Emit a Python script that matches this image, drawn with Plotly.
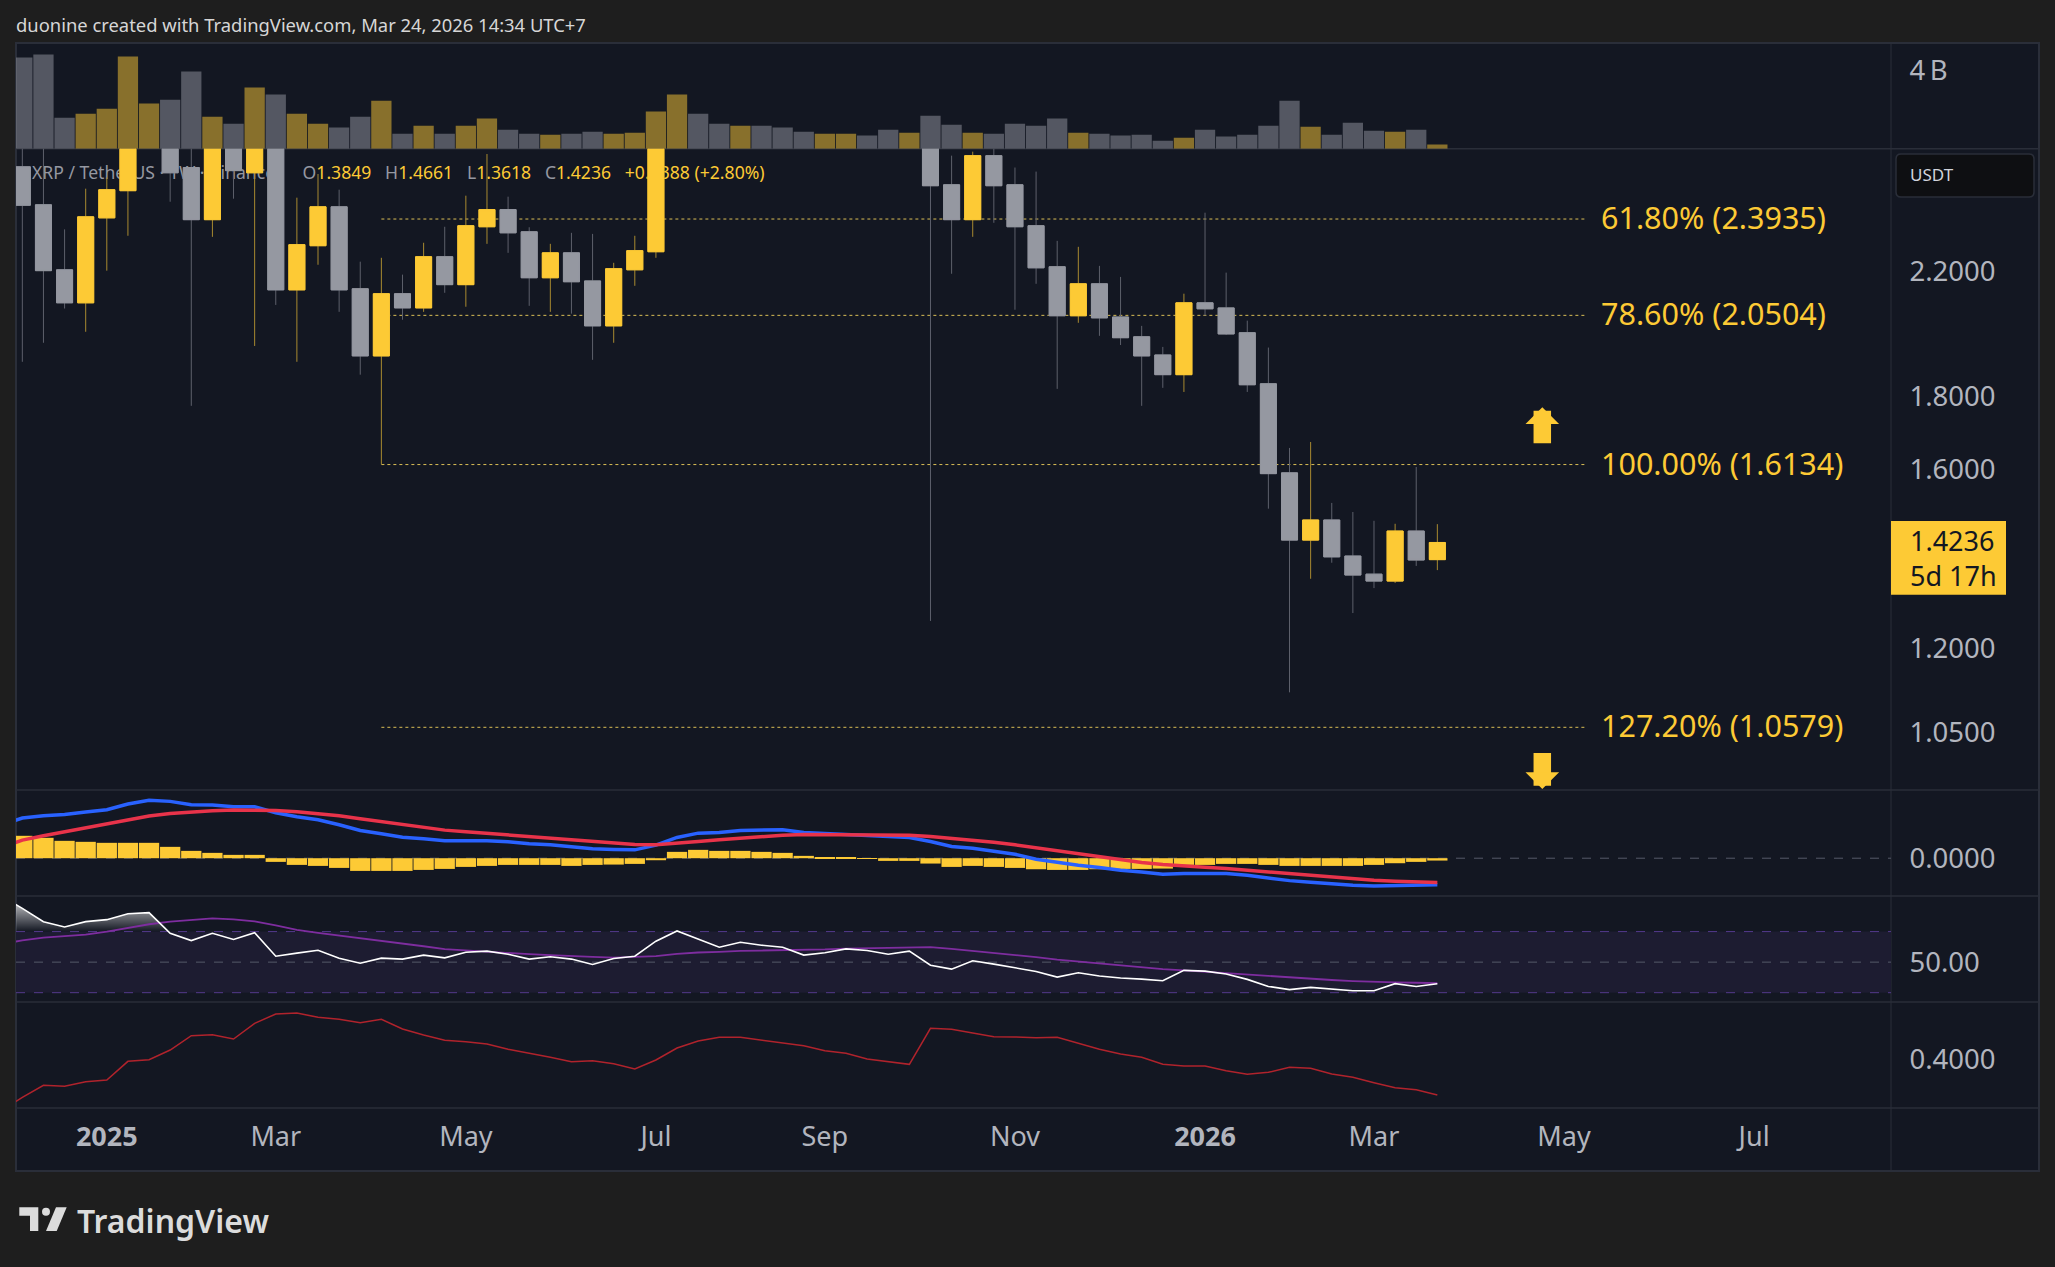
import numpy as np
import pandas as pd
import plotly.graph_objects as go
from plotly.subplots import make_subplots

W, H = 2055, 1267

# weekly bars, Dec 9 2024 .. Mar 23 2026 (bars above 2.68 are cut off by the pane)
first_bar = "2024-12-09"
opens = [2.603, 2.449, 2.206, 2.092, 2.398, 2.505, 3.15, 3.10, 2.60, 2.391, 2.75, 2.578, 2.75, 2.136, 2.293, 2.441, 2.140,
         1.921, 2.123, 2.075, 2.253, 2.154, 2.364, 2.430, 2.345, 2.178, 2.267, 2.167, 2.016, 2.206, 2.271, 2.95, 3.45,
         3.15, 2.98, 3.10, 3.02, 2.98, 2.85, 2.95, 3.08, 2.98, 2.85, 2.99, 2.529, 2.391, 2.650, 2.529, 2.368, 2.217,
         2.049, 2.157, 2.045, 1.981, 1.924, 1.864, 2.092, 2.075, 1.994, 1.837, 1.592, 1.429, 1.476, 1.393, 1.353, 1.338,
         1.450, 1.3849]
highs = [2.72, 2.75, 2.354, 2.513, 2.559, 3.40, 3.40, 3.20, 2.90, 2.80, 2.85, 2.80, 2.99, 2.477, 2.573, 2.509, 2.235,
         2.249, 2.189, 2.304, 2.364, 2.485, 2.657, 2.481, 2.362, 2.300, 2.341, 2.337, 2.231, 2.330, 3.00, 3.65, 3.50,
         3.30, 3.15, 3.30, 3.10, 3.05, 2.95, 3.10, 3.20, 3.05, 3.00, 3.10, 2.650, 2.667, 2.72, 2.60, 2.583, 2.311,
         2.289, 2.220, 2.181, 2.016, 1.949, 2.123, 2.418, 2.196, 2.033, 1.947, 1.657, 1.673, 1.517, 1.495, 1.474, 1.467,
         1.607, 1.4661]
lows = [1.903, 1.962, 2.073, 1.997, 2.203, 2.330, 2.90, 2.461, 1.773, 2.326, 2.473, 1.952, 2.085, 1.903, 2.224, 2.062,
        1.864, 1.614, 2.036, 2.062, 2.126, 2.079, 2.300, 2.267, 2.082, 2.062, 2.056, 1.909, 1.962, 2.150, 2.249, 2.80,
        2.95, 2.75, 2.75, 2.85, 2.75, 2.72, 2.72, 2.80, 2.85, 2.72, 2.72, 1.255, 2.192, 2.326, 2.379, 2.069, 2.157,
        1.822, 2.026, 1.984, 1.955, 1.773, 1.825, 1.813, 2.049, 1.987, 1.813, 1.503, 1.119, 1.343, 1.378, 1.271, 1.323,
        1.334, 1.371, 1.3618]
closes = [2.447, 2.203, 2.092, 2.402, 2.509, 3.15, 3.20, 2.578, 2.391, 2.75, 2.587, 2.75, 2.136, 2.297, 2.441, 2.136,
          1.921, 2.123, 2.075, 2.253, 2.154, 2.368, 2.430, 2.341, 2.178, 2.267, 2.164, 2.016, 2.210, 2.275, 2.95, 3.45,
          3.15, 2.98, 3.10, 3.02, 2.98, 2.85, 2.95, 3.08, 2.98, 2.85, 2.99, 2.525, 2.391, 2.650, 2.525, 2.364, 2.213,
          2.049, 2.157, 2.042, 1.978, 1.921, 1.864, 2.092, 2.072, 1.990, 1.834, 1.590, 1.429, 1.476, 1.391, 1.351, 1.338,
          1.450, 1.384, 1.4236]
volumes = [4.67, 4.82, 1.59, 1.79, 2.05, 4.72, 2.31, 2.51, 3.95, 1.64, 1.28, 3.13, 2.77, 1.79, 1.28, 1.08, 1.64, 2.46, 0.77,
           1.18, 0.77, 1.18, 1.54, 0.97, 0.77, 0.72, 0.77, 0.87, 0.77, 0.82, 1.90, 2.77, 1.79, 1.28, 1.18, 1.18, 1.08, 0.87,
           0.77, 0.77, 0.67, 0.97, 0.82, 1.69, 1.23, 0.82, 0.77, 1.28, 1.18, 1.54, 0.82, 0.77, 0.67, 0.72, 0.41, 0.56, 0.97,
           0.62, 0.72, 1.18, 2.46, 1.13, 0.72, 1.33, 0.92, 0.87, 0.97, 0.21]
macd_hist = [0.067, 0.061, 0.052, 0.049, 0.046, 0.046, 0.046, 0.034, 0.022, 0.016, 0.010, 0.010, -0.011, -0.020, -0.023,
             -0.029, -0.038, -0.038, -0.038, -0.035, -0.032, -0.026, -0.023, -0.020, -0.020, -0.020, -0.023, -0.020, -0.019,
             -0.017, -0.006, 0.019, 0.025, 0.022, 0.022, 0.019, 0.016, 0.007, 0.003, 0.001, -0.002, -0.008, -0.008, -0.016,
             -0.026, -0.023, -0.026, -0.029, -0.033, -0.035, -0.035, -0.033, -0.032, -0.032, -0.031, -0.020, -0.020, -0.017,
             -0.017, -0.020, -0.023, -0.023, -0.023, -0.023, -0.020, -0.015, -0.011, -0.007]

# the indicator lines start one bar earlier, it runs off the left edge
first_line = "2024-12-02"
macd_line = [0.100, 0.120, 0.127, 0.131, 0.138, 0.145, 0.162, 0.173, 0.170, 0.160, 0.159, 0.154, 0.154, 0.136, 0.124, 0.115,
             0.100, 0.083, 0.073, 0.063, 0.058, 0.052, 0.052, 0.052, 0.049, 0.043, 0.040, 0.034, 0.028, 0.026, 0.025, 0.039,
             0.062, 0.075, 0.077, 0.083, 0.085, 0.085, 0.077, 0.074, 0.071, 0.067, 0.064, 0.062, 0.050, 0.035, 0.030, 0.022,
             0.012, -0.003, -0.013, -0.021, -0.028, -0.036, -0.041, -0.048, -0.046, -0.046, -0.046, -0.051, -0.060, -0.067,
             -0.072, -0.077, -0.081, -0.083, -0.082, -0.081, -0.079]
signal_line = [0.032, 0.054, 0.067, 0.079, 0.090, 0.102, 0.115, 0.126, 0.134, 0.139, 0.142, 0.144, 0.144, 0.143, 0.139, 0.134,
               0.127, 0.118, 0.110, 0.100, 0.092, 0.084, 0.079, 0.074, 0.070, 0.065, 0.060, 0.056, 0.050, 0.045, 0.041, 0.040,
               0.044, 0.050, 0.055, 0.060, 0.065, 0.069, 0.071, 0.071, 0.071, 0.070, 0.070, 0.069, 0.065, 0.060, 0.054, 0.048,
               0.040, 0.031, 0.021, 0.012, 0.003, -0.005, -0.013, -0.019, -0.024, -0.027, -0.031, -0.036, -0.042, -0.048,
               -0.053, -0.058, -0.063, -0.066, -0.069, -0.071, -0.073]
rsi_line = [93.3, 85.2, 76.5, 73.0, 76.5, 77.8, 81.7, 82.4, 68.9, 64.1, 68.9, 64.8, 69.3, 53.9, 55.9, 57.8, 52.6, 49.3, 52.6,
            52.0, 54.6, 52.8, 56.5, 57.2, 55.2, 52.0, 53.5, 52.0, 48.5, 52.4, 53.9, 63.7, 70.4, 65.2, 59.8, 63.0, 61.1, 59.8,
            54.6, 56.1, 58.7, 57.6, 55.2, 57.2, 48.0, 45.4, 50.9, 48.7, 46.1, 43.9, 40.2, 43.0, 40.9, 39.6, 38.9, 37.8, 44.6,
            44.1, 42.2, 38.7, 34.1, 32.0, 33.5, 32.2, 31.3, 31.3, 35.9, 34.1, 35.9]
rsi_ma = [61.7, 64.3, 66.1, 67.2, 68.0, 70.0, 72.6, 74.8, 76.5, 77.8, 78.7, 78.0, 76.7, 74.1, 71.1, 69.1, 67.4, 65.9, 64.1,
          62.4, 60.4, 58.5, 57.6, 57.0, 56.1, 55.2, 54.6, 53.9, 53.5, 53.0, 53.3, 53.9, 55.4, 56.3, 56.7, 57.4, 57.6, 57.8,
          57.8, 58.3, 58.9, 59.1, 59.6, 59.8, 59.8, 58.7, 57.4, 56.1, 54.8, 53.3, 51.7, 50.4, 49.3, 48.0, 46.7, 45.4, 44.6,
          43.7, 43.0, 42.0, 40.7, 39.8, 39.1, 38.3, 37.6, 37.0, 36.7, 36.5, 36.3]
ratio_line = [0.3225, 0.3425, 0.3605, 0.3590, 0.3660, 0.3685, 0.3965, 0.3990, 0.4135, 0.4350, 0.4365, 0.4300, 0.4535, 0.4675,
              0.4690, 0.4625, 0.4595, 0.4545, 0.4595, 0.4450, 0.4360, 0.4280, 0.4260, 0.4225, 0.4145, 0.4090, 0.4025, 0.3960,
              0.3975, 0.3930, 0.3850, 0.3985, 0.4165, 0.4270, 0.4325, 0.4325, 0.4285, 0.4245, 0.4200, 0.4125, 0.4085, 0.4000,
              0.3960, 0.3920, 0.4460, 0.4445, 0.4390, 0.4335, 0.4330, 0.4320, 0.4325, 0.4235, 0.4145, 0.4075, 0.4025, 0.3920,
              0.3895, 0.3895, 0.3825, 0.3770, 0.3800, 0.3875, 0.3860, 0.3775, 0.3725, 0.3645, 0.3570, 0.3540, 0.3460]

fib_levels = [2.3935, 2.0504, 1.6134, 1.0579]
fib_labels = ["61.80% (2.3935)", "78.60% (2.0504)", "100.00% (1.6134)", "127.20% (1.0579)"]
fib_start, fib_end = "2025-04-07", "2026-05-11"

price_ticks = [1.05, 1.2, 1.6, 1.8, 2.2]
time_ticks = ["2025-01-06", "2025-03-03", "2025-05-05", "2025-07-07", "2025-09-01", "2025-11-03", "2026-01-05", "2026-03-02",
              "2026-05-04", "2026-07-06"]
time_labels = ["<b>2025</b>", "Mar", "May", "Jul", "Sep", "Nov", "<b>2026</b>", "Mar", "May", "Jul"]

for a in (opens, highs, lows, closes, volumes, macd_hist):
    assert len(a) == 68, len(a)
for a in (macd_line, signal_line, rsi_line, rsi_ma, ratio_line):
    assert len(a) == 69, len(a)

YELLOW = "#fdca35"
GREY = "#9598a1"
PANE = "#131722"
PAPER = "#1e1e1e"
EDGE = "#2a2e39"
TICK = "#b2b5be"
FONT = "Noto Sans"
Y_NUDGE = 1


def fx(p):
    return p / W


def fy(p):
    return 1 - (p + Y_NUDGE) / H


dates = pd.date_range(first_bar, periods=len(opens), freq="7D")
line_dates = pd.date_range(first_line, periods=len(macd_line), freq="7D")
week = pd.Timedelta(days=7)
x_range = [dates[0] - 0.3 * week, dates[0] + 88.48 * week]

fig = make_subplots(rows=5, cols=1, shared_xaxes=True)

vol_colors = ["rgba(253,202,53,0.5)" if c > o else "rgba(149,152,161,0.5)" for o, c in zip(opens, closes)]
fig.add_trace(go.Bar(x=dates, y=volumes, marker=dict(color=vol_colors, line_width=0)), row=1, col=1)

# wicks first, then the bodies again on top so the thin lines stay dim
fig.add_trace(go.Candlestick(x=dates, open=opens, high=highs, low=lows, close=closes,
                             increasing=dict(line=dict(color="#a88a30", width=1), fillcolor=YELLOW),
                             decreasing=dict(line=dict(color="#5d606b", width=1), fillcolor=GREY)), row=2, col=1)
fig.add_trace(go.Candlestick(x=dates, open=opens, close=closes,
                             high=np.maximum(opens, closes), low=np.minimum(opens, closes),
                             increasing=dict(line=dict(color=YELLOW, width=1), fillcolor=YELLOW),
                             decreasing=dict(line=dict(color=GREY, width=1), fillcolor=GREY)), row=2, col=1)

fig.add_trace(go.Bar(x=dates, y=macd_hist, marker=dict(color=YELLOW, line_width=0)), row=3, col=1)
fig.add_trace(go.Scatter(x=line_dates, y=macd_line, mode="lines", line=dict(color="#2962ff", width=3.5)), row=3, col=1)
fig.add_trace(go.Scatter(x=line_dates, y=signal_line, mode="lines", line=dict(color="#e8334a", width=3.5)), row=3, col=1)

fig.add_trace(go.Scatter(x=line_dates, y=[70] * len(line_dates), mode="lines", line=dict(width=0)), row=4, col=1)
fig.add_trace(go.Scatter(x=line_dates, y=np.maximum(rsi_line, 70), mode="lines", line=dict(width=0), fill="tonexty",
                         fillgradient=dict(type="vertical", start=70, stop=90,
                                           colorscale=[[0, "rgba(255,255,255,0)"], [1, "rgba(255,255,255,0.75)"]])),
              row=4, col=1)
fig.add_trace(go.Scatter(x=line_dates, y=rsi_ma, mode="lines", line=dict(color="#7e2d9f", width=1.8)), row=4, col=1)
fig.add_trace(go.Scatter(x=line_dates, y=rsi_line, mode="lines", line=dict(color="#ffffff", width=1.6)), row=4, col=1)

fig.add_trace(go.Scatter(x=line_dates, y=ratio_line, mode="lines", line=dict(color="#b0232c", width=1.5)), row=5, col=1)

shapes = [
    dict(type="rect", xref="paper", yref="paper", x0=fx(16), x1=fx(2039), y0=fy(42), y1=fy(1170), layer="below",
         fillcolor=PANE, line=dict(color=EDGE, width=2)),
]
for py in [147.7, 789, 895, 1001, 1107]:
    shapes.append(dict(type="line", xref="paper", yref="paper", x0=fx(16), x1=fx(2039), y0=fy(py), y1=fy(py), layer="below",
                       line=dict(color=EDGE, width=1.5)))
shapes.append(dict(type="line", xref="paper", yref="paper", x0=fx(1891), x1=fx(1891), y0=fy(43), y1=fy(1170), layer="below",
                   line=dict(color=EDGE, width=1)))
# legend sits under the candles, so it has to be a shape label
NB = "\u00a0"
legend_text = ("<span style='color:#9598a1'>XRP / TetherUS · 1W · Binance" + NB * 6 + "O</span>1.3849" + NB * 3 +
               "<span style='color:#9598a1'>H</span>1.4661" + NB * 3 + "<span style='color:#9598a1'>L</span>1.3618" + NB * 3 +
               "<span style='color:#9598a1'>C</span>1.4236" + NB * 3 + "+0.0388 (+2.80%)")
shapes.append(dict(type="rect", xref="paper", yref="paper", x0=fx(29), x1=fx(800), y0=fy(162), y1=fy(182), layer="below",
                   line=dict(width=0), label=dict(text=legend_text, textposition="middle left", padding=0,
                                                  font=dict(family=FONT, size=17.6, color=YELLOW))))
for lvl in fib_levels:
    shapes.append(dict(type="line", xref="x2", yref="y2", x0=fib_start, x1=fib_end, y0=lvl, y1=lvl, layer="below",
                       line=dict(color="#d9bd55", width=1, dash="dot")))
# RSI band and its levels
shapes.append(dict(type="rect", xref="x4 domain", yref="y4", x0=0, x1=1, y0=30, y1=70, layer="below",
                   fillcolor="#1d1c31", line=dict(width=0)))
for lvl, col in [(70, "#54398c"), (30, "#54398c"), (50, "#555a68")]:
    shapes.append(dict(type="line", xref="x4 domain", yref="y4", x0=0, x1=1, y0=lvl, y1=lvl, layer="below",
                       line=dict(color=col, width=1, dash="dash")))
shapes.append(dict(type="line", xref="x3 domain", yref="y3", x0=0, x1=1, y0=0, y1=0, layer="below",
                   line=dict(color="#555a68", width=1, dash="dash")))
# price tag and currency box
shapes.append(dict(type="rect", xref="paper", yref="paper", x0=fx(1891), x1=fx(2006), y0=fy(520), y1=fy(593.7),
                   fillcolor=YELLOW, line=dict(width=0)))


def rounded(x0, y0, x1, y1, r):
    return ("M {} {} L {} {} Q {} {} {} {} L {} {} Q {} {} {} {} L {} {} Q {} {} {} {} L {} {} Q {} {} {} {} Z".format(
        fx(x0 + r), fy(y0), fx(x1 - r), fy(y0), fx(x1), fy(y0), fx(x1), fy(y0 + r),
        fx(x1), fy(y1 - r), fx(x1), fy(y1), fx(x1 - r), fy(y1),
        fx(x0 + r), fy(y1), fx(x0), fy(y1), fx(x0), fy(y1 - r),
        fx(x0), fy(y0 + r), fx(x0), fy(y0), fx(x0 + r), fy(y0)))


shapes.append(dict(type="path", xref="paper", yref="paper", path=rounded(1896, 153, 2034, 196, 5),
                   fillcolor="#0e0f12", line=dict(color=EDGE, width=1.5)))
# TradingView mark


def poly(points):
    return "M " + " L ".join("{} {}".format(fx(a), fy(b - Y_NUDGE)) for a, b in points) + " Z"


shapes.append(dict(type="path", xref="paper", yref="paper", fillcolor="#dcdcdc", line=dict(width=0),
                   path=poly([(19.3, 1207.3), (38.3, 1207.3), (38.3, 1231), (30, 1231), (30, 1215.7), (19.3, 1215.7)])))
shapes.append(dict(type="circle", xref="paper", yref="paper", fillcolor="#dcdcdc", line=dict(width=0),
                   x0=fx(42), x1=fx(50), y0=fy(1206.7), y1=fy(1214.7)))
shapes.append(dict(type="path", xref="paper", yref="paper", fillcolor="#dcdcdc", line=dict(width=0),
                   path=poly([(56, 1207.3), (66.7, 1207.3), (56.7, 1231), (46, 1231)])))


def text(s, px, py, size, color=TICK, anchor="left", **kw):
    return dict(text=s, xref="paper", yref="paper", x=fx(px), y=fy(py), xanchor=anchor, yanchor="middle",
                showarrow=False, align="left", font=dict(family=FONT, size=size, color=color, **kw))


annotations = [
    text("duonine created with TradingView.com, Mar 24, 2026 14:34 UTC+7", 13.5, 23.5, 18.4, "#d6d6d6"),
    text("USDT", 1908, 174, 17, "#d1d4dc"),
    text("1.4236<br>5d 17h", 1908, 557, 27, "#131722"),
    text("TradingView", 75, 1219, 32, "#dcdcdc", weight=600),
]
for lvl, lab in zip(fib_levels, fib_labels):
    annotations.append(dict(text=lab, xref="paper", yref="y2", x=fx(1599), y=np.log10(lvl), yshift=2, xanchor="left", yanchor="middle",
                            showarrow=False, font=dict(family=FONT, size=30.5, color=YELLOW)))
# the two target arrows
annotations.append(dict(text="", xref="paper", yref="paper", axref="pixel", ayref="pixel", x=fx(1542.3), y=fy(406.3), ax=0, ay=37.5,
                        showarrow=True, arrowhead=1, arrowsize=0.32, arrowwidth=17.5, arrowcolor=YELLOW))
annotations.append(dict(text="", xref="paper", yref="paper", axref="pixel", ayref="pixel", x=fx(1542.3), y=fy(788), ax=0, ay=-37.5,
                        showarrow=True, arrowhead=1, arrowsize=0.32, arrowwidth=17.5, arrowcolor=YELLOW))

fig.update_layout(width=W, height=H, margin=dict(l=0, r=0, t=0, b=0), paper_bgcolor=PAPER, plot_bgcolor="rgba(0,0,0,0)",
                  showlegend=False, bargap=0.04, boxgap=0.24, boxgroupgap=0, shapes=shapes, annotations=annotations,
                  font=dict(family=FONT, color=TICK))
fig.update_xaxes(domain=[fx(16), fx(1891)], range=x_range, showgrid=False, zeroline=False, showline=False,
                 rangeslider_visible=False, showticklabels=False, ticks="")
fig.update_xaxes(showticklabels=True, tickmode="array", tickvals=time_ticks, ticktext=time_labels, ticks="outside",
                 ticklen=5, tickcolor="rgba(0,0,0,0)", tickfont=dict(family=FONT, size=27, color=TICK), row=5, col=1)
fig.update_yaxes(side="right", showgrid=False, zeroline=False, showline=False, ticks="outside", ticklen=12,
                 tickcolor="rgba(0,0,0,0)", tickfont=dict(family=FONT, size=27.5, color=TICK))
fig.update_yaxes(domain=[fy(147.7), fy(43)], range=[0, 5.36], tickvals=[4], ticktext=["4\u2009B"], row=1, col=1)
fig.update_yaxes(domain=[fy(789), fy(147.7)], type="log", range=[-0.0193, 0.4281], tickvals=price_ticks, tickformat=".4f", row=2, col=1)
fig.update_yaxes(domain=[fy(895), fy(789)], range=[-0.113, 0.204], tickvals=[0], ticktext=["0.0000"], row=3, col=1)
fig.update_yaxes(domain=[fy(1001), fy(895)], range=[23.9, 93.3], tickvals=[50], ticktext=["50.00"], row=4, col=1)
fig.update_yaxes(domain=[fy(1107), fy(1001)], range=[0.3265, 0.4855], tickvals=[0.4], ticktext=["0.4000"], row=5, col=1)

fig.write_html("out.html", config=dict(displayModeBar=False),
               post_script="document.body.style.margin='0';document.body.style.overflow='hidden';")
